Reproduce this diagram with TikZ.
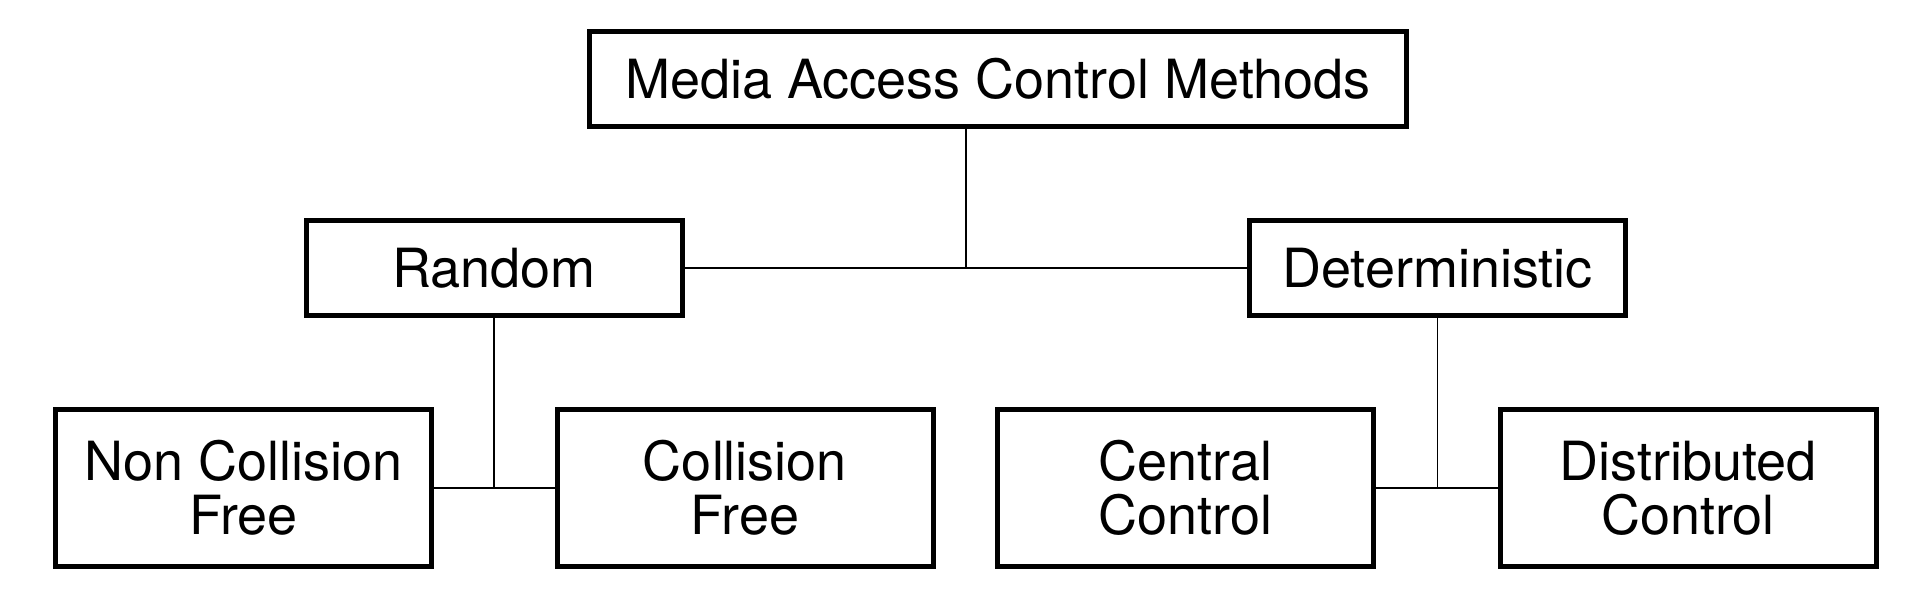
\documentclass[tikz,border=0pt]{standalone}
\usepackage{fontspec}
\setmainfont{TeX Gyre Heros}
\usetikzlibrary{calc}
\tikzset{
  box/.style={draw, line width=2.5pt, minimum width=188pt, minimum height=47.5pt,
    inner sep=0pt, align=center, font=\fontsize{27}{27}\selectfont},
  tallbox/.style={box, minimum height=78.5pt},
  link/.style={line width=0.9pt}
}
\begin{document}
\begin{tikzpicture}[x=0.5pt,y=-0.5pt]
  \useasboundingbox (0,0) rectangle (1908,594) ;
  \node[box, minimum width=408.5pt] (mac) at (998,78.5) {Media Access Control Methods} ;
  \node[box] (rand) at (494,268) {Random} ;
  \node[box] (det) at (1437.5,268) {Deterministic} ;
  \node[tallbox] (ncf) at (243.5,488) {Non Collision\\Free} ;
  \node[tallbox] (cf) at (745,488) {Collision\\Free} ;
  \node[tallbox] (cc) at (1185.5,488) {Central\\Control} ;
  \node[tallbox] (dc) at (1688,488) {Distributed\\Control} ;
  % joints
  \coordinate (j1) at ($(rand.east)!0.5!(det.west)$) ;
  \coordinate (j2) at (rand.south |- ncf.east) ;
  \coordinate (j3) at (det.south |- cc.east) ;
  \draw[link] (rand.east) -- (det.west) ;
  \draw[link] (mac.south -| j1) -- (j1) ;
  \draw[link] (ncf.east) -- (cf.west) ;
  \draw[link] (rand.south) -- (j2) ;
  \draw[link] (cc.east) -- (dc.west) ;
  \draw[link] (det.south) -- (j3) ;
\end{tikzpicture}
\end{document}
